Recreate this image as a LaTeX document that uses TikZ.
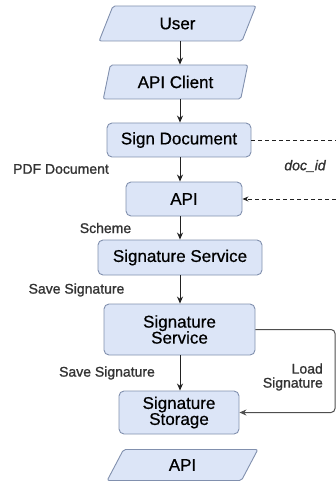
\documentclass[tikz,border=0pt]{standalone}
\usepackage{fontspec}
\setmainfont{Liberation Sans}
\newfontfamily\boxfont{Liberation Sans}[FakeBold=0.6]
\newfontfamily\labfont{Liberation Sans}[FakeBold=1.2]
\usetikzlibrary{shapes.geometric,arrows.meta}
\definecolor{boxfill}{HTML}{DCE5F7}
\definecolor{boxline}{HTML}{8190AE}
\definecolor{labeltext}{HTML}{333333}
\definecolor{wire}{HTML}{222222}
\tikzset{
  proc/.style={draw=boxline, fill=boxfill, line width=0.9pt, rounded corners=5pt,
    inner sep=0pt, align=center, font=\boxfont\fontsize{17}{19}\selectfont},
  io/.style={trapezium, trapezium left angle=72, trapezium right angle=108,
    trapezium stretches=true, draw=boxline, fill=boxfill, line width=0.9pt,
    rounded corners=2pt, inner sep=0pt, font=\boxfont\fontsize{17}{19}\selectfont},
  flow/.style={draw=wire, -{Stealth[length=7pt,width=6pt]}, line width=1pt},
  ref/.style={draw=wire, line width=0.8pt, dash pattern=on 4pt off 3pt},
  lab/.style={text=labeltext, inner sep=0pt, font=\labfont\fontsize{14}{16}\selectfont}
}
\begin{document}
\begin{tikzpicture}[x=1pt, y=-1pt]
  \useasboundingbox (0,0) rectangle (336,481);
  \coordinate (spine) at (180,0);
  \coordinate (rim) at (336,0);
  \coordinate (loop) at (335,0);

  % main column
  \node[io, minimum width=157, minimum height=35] (user) at (177.5,23.5) {User};
  \node[io, minimum width=145, minimum height=34] (client) at (175.5,82) {API Client};
  \node[proc, minimum width=144, minimum height=34] (sign) at (179,140) {Sign Document};
  \node[proc, minimum width=116, minimum height=34] (api) at (184,199) {API};
  \node[proc, minimum width=164, minimum height=35] (ss1) at (180,257.5) {Signature Service};
  \node[proc, minimum width=151, minimum height=51] (ss2) at (179.5,329.5) {Signature\\[-3pt]Service};
  \node[proc, minimum width=120, minimum height=43] (store) at (179,412.5) {Signature\\[-3pt]Storage};
  \node[io, minimum width=151, minimum height=31] (api2) at (182.5,465) {API};

  % vertical flow
  \draw[flow] (user.south -| spine) -- (client.north -| spine);
  \draw[flow] (client.south -| spine) -- (sign.north -| spine);
  \draw[flow] (sign.south -| spine) -- (api.north -| spine);
  \draw[flow] (api.south -| spine) -- (ss1.north -| spine);
  \draw[flow] (ss1.south -| spine) -- (ss2.north -| spine);
  \draw[flow] (ss2.south -| spine) -- (store.north -| spine);

  % document id round trip
  \draw[ref] (sign.east) -- (sign.east -| rim);
  \draw[ref, -{Stealth[length=6pt,width=5pt]}] (api.east -| rim) -- (api.east);

  % load signature loop
  \draw[flow, draw=wire!80, rounded corners=4pt]
    (ss2.east) -- (loop |- ss2.east) -- (loop |- store.east) -- (store.east);

  % labels
  \node[lab] (lpdf) at (61,169) {PDF Document};
  \node[lab, font=\labfont\fontsize{14}{16}\selectfont\itshape] (ldoc) at (305,166) {doc\_id};
  \node[lab] (lscheme) at (105.5,228) {Scheme};
  \node[lab] (lsave1) at (76.5,290) {Save Signature};
  \node[lab] (lsave2) at (107,373) {Save Signature};
  \node[lab, align=right, anchor=east] (lload) at (323,377) {Load\\[-2pt]Signature};
\end{tikzpicture}
\end{document}
